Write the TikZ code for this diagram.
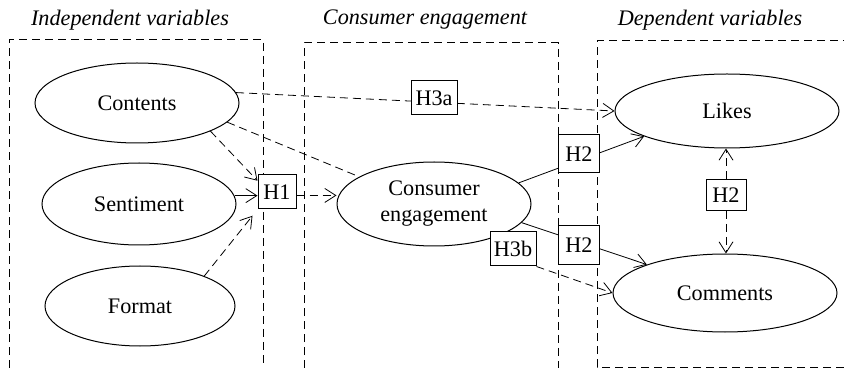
\documentclass[tikz,border=0pt]{standalone}
\usepackage{fontspec}
\setmainfont{Liberation Serif}
\usetikzlibrary{arrows.meta,shapes.geometric,backgrounds}
\begin{document}
\begin{tikzpicture}[x=0.5pt,y=-0.5pt,line width=0.5pt,
  font=\fontsize{11.1}{13}\selectfont,
  groupbox/.style={draw,dash pattern=on 4pt off 2.5pt},
  var/.style={draw,ellipse,inner sep=0pt,align=center},
  hyp/.style={draw,fill=white,inner sep=0pt,minimum width=21pt,minimum height=17pt},
  title/.style={font=\fontsize{11.1}{13}\selectfont\itshape},
  dline/.style={dash pattern=on 4pt off 2.5pt},
  tip/.style={-{Straight Barb[length=5.5pt,width=7pt]}}
]
\useasboundingbox (0,0) rectangle (844,368);

% group frames and their headings
\draw[groupbox] (9,368) -- (9,40) -- (263,40) -- (263,368);
\draw[groupbox] (304,368) -- (304,43) -- (558,43) -- (558,368);
\draw[groupbox] (844,367) -- (597,367) -- (597,41) -- (844,41);
\node[title] (tindep) at (130,20) {Independent variables};
\node[title] (tcons) at (425,20) {Consumer engagement};
\node[title] (tdep) at (710,20) {Dependent variables};

% variables
\node[var,minimum width=102pt,minimum height=40pt] (cont) at (137,103) {Contents};
\node[var,minimum width=97pt,minimum height=41pt] (sent) at (139,204) {Sentiment};
\node[var,minimum width=95pt,minimum height=40pt] (form) at (140,306) {Format};
\node[var,minimum width=97pt,minimum height=42pt] (ce) at (434,204) {Consumer\\engagement};
\node[var,minimum width=112pt,minimum height=37pt] (likes) at (727,111) {Likes};
\node[var,minimum width=112pt,minimum height=39pt] (comm) at (725,293) {Comments};

% hypothesis labels
\node[hyp,minimum width=19pt] (h1) at (277,192) {H1};
\node[hyp,minimum width=23pt] (h3a) at (434,98) {H3a};
\node[hyp,minimum width=20.5pt,minimum height=19pt] (h2a) at (579,154) {H2};
\node[hyp,minimum width=20pt,minimum height=15.5pt] (h2v) at (726,195) {H2};
\node[hyp,minimum width=20.5pt,minimum height=19.5pt] (h2b) at (579,245) {H2};
\node[hyp,minimum width=23pt] (h3b) at (513,249) {H3b};

% connectors, kept beneath the labels
\begin{pgfonlayer}{background}
\draw[dline,tip] (cont.6) -- (likes.west);
\draw[dline] (cont.-12) -- (ce.160);
\draw[dline,tip] (cont.-21) -- (h1.150);
\draw[tip] (sent.5) -- (sent.5 -| h1.west);
\draw[dline,tip,shorten >=4pt] (form.25) -- (h1.south west);
\draw[dline,tip] (h1.-10) -- (h1.-10 -| ce.west);
\draw[tip] (ce.14) -- (likes.-163);
\draw[tip] (ce.-12) -- (comm.160);
\draw[dline,tip] (h3b.south east) -- (comm.west);
\draw[dline,tip] (h2v.north) -- (h2v.north |- likes.south);
\draw[dline,tip] (h2v.south) -- (h2v.south |- comm.north);
\end{pgfonlayer}
\end{tikzpicture}
\end{document}
